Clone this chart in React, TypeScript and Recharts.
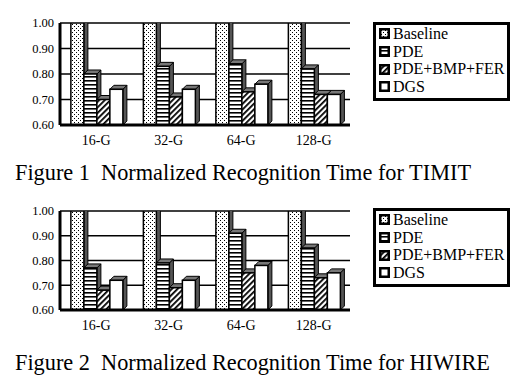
import React from 'react';
import { BarChart, Bar, XAxis, YAxis, CartesianGrid, Legend } from 'recharts';

const categories = ['16-G', '32-G', '64-G', '128-G'];
const seriesNames = ['Baseline', 'PDE', 'PDE+BMP+FER', 'DGS'];
const yTicks = [0.6, 0.7, 0.8, 0.9, 1.0];

// Figure 1 - TIMIT
const timitBaseline = [1.0, 1.0, 1.0, 1.0];
const timitPde = [0.8, 0.83, 0.84, 0.82];
const timitPbf = [0.7, 0.71, 0.73, 0.72];
const timitDgs = [0.74, 0.74, 0.76, 0.72];

// Figure 2 - HIWIRE
const hiwireBaseline = [1.0, 1.0, 1.0, 1.0];
const hiwirePde = [0.77, 0.79, 0.91, 0.85];
const hiwirePbf = [0.68, 0.69, 0.75, 0.73];
const hiwireDgs = [0.72, 0.72, 0.78, 0.75];

const FONT = "'Liberation Serif', 'Times New Roman', serif";
const fills = ['url(#patDots)', 'url(#patHoriz)', 'url(#patDiag)', '#ffffff'];
const keys = ['baseline', 'pde', 'pbf', 'dgs'];

const buildRows = (b: number[], p: number[], f: number[], d: number[]) =>
    categories.map((c, i) => ({ cat: c, baseline: b[i], pde: p[i], pbf: f[i], dgs: d[i] }));

const Bar3D = (props: any) => {
    const { x, y, width, height, fill } = props;
    if (width == null || height == null) return null;
    const d = 4;
    const side = `${x + width},${y} ${x + width + d},${y - d} ${x + width + d},${y + height - d} ${x + width},${y + height}`;
    const top = `${x},${y} ${x + d},${y - d} ${x + width + d},${y - d} ${x + width},${y}`;
    return (
        <g>
            <polygon points={side} fill="#555" stroke="#000" strokeWidth={1} />
            <polygon points={top} fill="#777" stroke="#000" strokeWidth={1} />
            <rect x={x} y={y} width={width} height={height} fill={fill} stroke="#000" strokeWidth={1.5} />
        </g>
    );
};

const LegendBox = () => (
    <div style={{
        border: '3px solid #000', background: '#fff', paddingLeft: 3, paddingBottom: 2,
        fontFamily: FONT, fontSize: 16, lineHeight: '17.7px', color: '#000', width: 128,
    }}>
        {seriesNames.map((n, i) => (
            <div key={n} style={{ display: 'flex', alignItems: 'center', whiteSpace: 'nowrap' }}>
                <svg width={11} height={11} style={{ marginRight: 3 }}>
                    <rect x={1.25} y={1.25} width={8.5} height={8.5} fill={fills[i]} stroke="#000" strokeWidth={2.5} />
                </svg>
                {n}
            </div>
        ))}
    </div>
);

const Chart = ({ data, height, legendTop }: { data: any[], height: number, legendTop: number }) => (
    <BarChart width={519} height={height} data={data} barGap={0} barCategoryGap="15%"
        margin={{ top: 23, right: 169, left: 0, bottom: 5 }}>
        <CartesianGrid vertical={false} stroke="#000" strokeWidth={1.5} />
        <XAxis dataKey="cat" height={20} axisLine={{ stroke: '#000', strokeWidth: 3 }} tickLine={false}
            tickMargin={4} tick={{ fill: '#000', fontSize: 14, fontFamily: FONT }} />
        <YAxis domain={[0.6, 1.0]} ticks={yTicks} width={60} allowDataOverflow
            tickFormatter={(v: number) => v.toFixed(2)} axisLine={{ stroke: '#000', strokeWidth: 3 }}
            tickLine={false} tickMargin={0} tick={{ fill: '#000', fontSize: 12.5, fontFamily: FONT }} />
        <YAxis yAxisId="frame" orientation="right" domain={[0.6, 1.0]} width={0} tick={false} tickLine={false}
            axisLine={{ stroke: '#000', strokeWidth: 2 }} />
        <Legend layout="vertical" align="center" verticalAlign="middle"
            wrapperStyle={{ left: 373, top: legendTop, width: 134 }} content={() => <LegendBox />} />
        {keys.map((k, i) => (
            <Bar key={k} dataKey={k} name={seriesNames[i]} fill={fills[i]} shape={Bar3D} isAnimationActive={false} />
        ))}
    </BarChart>
);

const captionStyle: React.CSSProperties = {
    position: 'absolute', left: 15, fontFamily: FONT, fontSize: 22.3, lineHeight: '22px',
    whiteSpace: 'pre', color: '#000',
};

export default function App() {
    return (
        <div style={{ position: 'absolute', left: 0, top: 0, width: 519, height: 380, background: '#fff' }}>
            <svg width={0} height={0} style={{ position: 'absolute' }}>
                <defs>
                    <pattern id="patDots" width={4} height={4} patternUnits="userSpaceOnUse">
                        <rect width={4} height={4} fill="#fff" />
                        <rect x={0} y={0} width={1} height={1} fill="#000" />
                        <rect x={2} y={2} width={1} height={1} fill="#000" />
                    </pattern>
                    <pattern id="patHoriz" width={4} height={4} patternUnits="userSpaceOnUse">
                        <rect width={4} height={4} fill="#fff" />
                        <rect x={0} y={0} width={4} height={1.6} fill="#000" />
                    </pattern>
                    <pattern id="patDiag" width={4} height={4} patternUnits="userSpaceOnUse" patternTransform="rotate(45)">
                        <rect width={4} height={4} fill="#fff" />
                        <rect x={0} y={0} width={1.8} height={4} fill="#000" />
                    </pattern>
                </defs>
            </svg>
            <div style={{ position: 'absolute', left: 0, top: 0 }}>
                <Chart data={buildRows(timitBaseline, timitPde, timitPbf, timitDgs)} height={150} legendTop={22} />
            </div>
            <div style={{ ...captionStyle, top: 162 }}>{'Figure 1  Normalized Recognition Time for TIMIT'}</div>
            <div style={{ position: 'absolute', left: 0, top: 188 }}>
                <Chart data={buildRows(hiwireBaseline, hiwirePde, hiwirePbf, hiwireDgs)} height={147} legendTop={20} />
            </div>
            <div style={{ ...captionStyle, top: 352 }}>{'Figure 2  Normalized Recognition Time for HIWIRE'}</div>
        </div>
    );
}
